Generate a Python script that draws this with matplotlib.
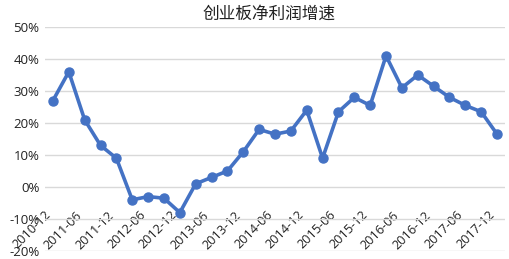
import matplotlib
matplotlib.use("Agg")
import matplotlib.pyplot as plt
from matplotlib.ticker import FuncFormatter, MultipleLocator

title = "创业板净利润增速"
quarters = ["2010-12", "2011-03", "2011-06", "2011-09", "2011-12",
            "2012-03", "2012-06", "2012-09", "2012-12",
            "2013-03", "2013-06", "2013-09", "2013-12",
            "2014-03", "2014-06", "2014-09", "2014-12",
            "2015-03", "2015-06", "2015-09", "2015-12",
            "2016-03", "2016-06", "2016-09", "2016-12",
            "2017-03", "2017-06", "2017-09", "2017-12"]
growth = [27, 36, 21, 13, 9,
          -4, -3, -3.5, -8,
          1, 3, 5, 11,
          18, 16.5, 17.5, 24,
          9, 23.5, 28, 25.5,
          41, 31, 35, 31.5,
          28, 25.5, 23.5, 16.5]
yticks = [-20, -10, 0, 10, 20, 30, 40, 50]

plt.rcParams['font.family'] = ['Noto Sans CJK SC', 'DejaVu Sans']

fig = plt.figure(figsize=(5.10, 2.59), dpi=100)
ax = fig.add_axes([45/510, 8/259, 460/510, 224/259])

x = list(range(len(quarters)))
ax.plot(x, growth, color="#4472C4", linewidth=2.6, marker="o",
        markersize=6.5, zorder=3, clip_on=False)

ax.set_xlim(-0.5, len(quarters) - 0.5)
ax.set_ylim(-20, 50)
ax.set_yticks(yticks)
ax.yaxis.set_major_formatter(FuncFormatter(lambda v, p: f"{int(v)}%"))
ax.grid(axis="y", color="#D9D9D9", linewidth=1.0)
ax.set_axisbelow(True)

for s in ["top", "right", "left"]:
    ax.spines[s].set_visible(False)
ax.spines["bottom"].set_position(("data", 0))
ax.spines["bottom"].set_visible(False)

ax.set_xticks(x[::2])
ax.set_xticklabels(quarters[::2], rotation=45, ha="right",
                   rotation_mode="default", fontsize=9.2,
                   family=["Open Sans", "DejaVu Sans"])
ax.tick_params(axis="x", length=0, pad=15.5, colors="#222222")
ax.tick_params(axis="y", length=0, pad=4, labelsize=9.5, colors="#222222")
for lbl in ax.get_yticklabels():
    lbl.set_family(["Open Sans", "DejaVu Sans"])

fig.text(0.527, 0.945, title, ha="center", va="center", fontsize=12,
         color="#222222")

fig.savefig("out.png", dpi=100)
